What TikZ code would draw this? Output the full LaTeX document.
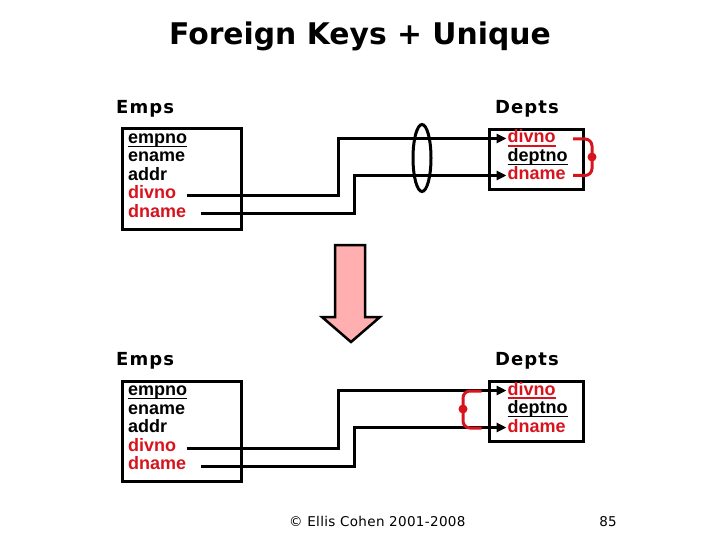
\documentclass[tikz,border=0pt]{standalone}
\usepackage{fontspec}
\setmainfont{Liberation Sans}
\newfontfamily\vfont{DejaVu Sans}
\usetikzlibrary{arrows.meta,shapes.geometric}
\definecolor{mred}{RGB}{215,20,30}
\definecolor{pinkfill}{RGB}{255,175,175}
\newcommand\ulin[1]{\setbox0\hbox{#1}\rlap{\vrule height -2.2pt depth 3.6pt width \wd0}\box0}
\newcommand\halfdiag{%
  \node[tabtitle] (et) at (116,113.5) {Emps};
  \node[tabtitle] (dt) at (495,113.5) {Depts};
  \node[tbox, minimum width=119.5pt, minimum height=100.5pt] (eb) at (120.5,127.5) {};
  \node[tbox, minimum width=94pt, minimum height=60pt] (db) at (487.7,128.3) {};
  \node[field] (e1) at (128,143.5) {\ulin{empno}};
  \node[field] (e2) at (128,162) {ename};
  \node[field] (e3) at (128,180.5) {addr};
  \node[keyfield] (e4) at (128,199) {divno};
  \node[keyfield] (e5) at (128,217.5) {dname};
  \node[keyfield] (d1) at (507.5,143) {\ulin{divno}};
  \node[field] (d2) at (507.5,161.5) {\ulin{deptno}};
  \node[keyfield] (d3) at (507.5,180) {dname};
  \coordinate (s1) at (186.5,196);
  \coordinate (s2) at (201,214);
  \draw[conn] (s1) -| (338.5,160) |- ([shift={(-1pt,4.5pt)}]d1.base west);
  \draw[conn] (s2) -| (354.5,190) |- ([shift={(-1pt,4.5pt)}]d3.base west);
}
\begin{document}
\begin{tikzpicture}[x=1pt,y=-1pt,
  field/.style={anchor=base west, inner sep=0pt, font=\bfseries\fontsize{18}{18}\selectfont},
  keyfield/.style={field, text=mred},
  tbox/.style={draw, line width=3pt, anchor=north west, inner sep=0pt},
  tabtitle/.style={anchor=base west, inner sep=0pt, font=\vfont\bfseries\fontsize{18}{18}\selectfont\addfontfeature{LetterSpace=6}},
  conn/.style={line width=3pt, -{Triangle[length=10pt,width=9pt]}},
  bracket/.style={draw=mred, line width=3pt, rounded corners=7pt},
  bigarrow/.style={draw, fill=pinkfill, line width=2.5pt, line join=miter},
  foot/.style={inner sep=0pt, font=\vfont\fontsize{13.5}{14}\selectfont\addfontfeature{LetterSpace=2.5}}]
\useasboundingbox (0,0) rectangle (720,540);
\node[anchor=base, inner sep=0pt, font=\vfont\bfseries\fontsize{29.8}{31}\selectfont] (title) at (360,44.5) {Foreign Keys + Unique};

\halfdiag
\node[draw, line width=3pt, ellipse, minimum width=18pt, minimum height=67pt, inner sep=0pt] (ell) at (422,158) {};
\draw[bracket] (573,139) -- (592,139) -- (592,175.5) -- (573,175.5);
\fill[mred] (592,157) circle (4.5);

\path[bigarrow] (335,245) -- (365,245) -- (365,317) -- (380,317) -- (351,342) -- (322,317) -- (335,317) -- cycle;

\begin{scope}[shift={(0,252)}, name prefix=b-]
\halfdiag
\draw[bracket] (481.5,139) -- (463,139) -- (463,176) -- (481.5,176);
\fill[mred] (463,157) circle (4.5);
\end{scope}

\node[foot, anchor=base west] (copy) at (289,526.5) {© Ellis Cohen 2001-2008};
\node[foot, anchor=base east] (page) at (617,526.5) {85};
\end{tikzpicture}
\end{document}
